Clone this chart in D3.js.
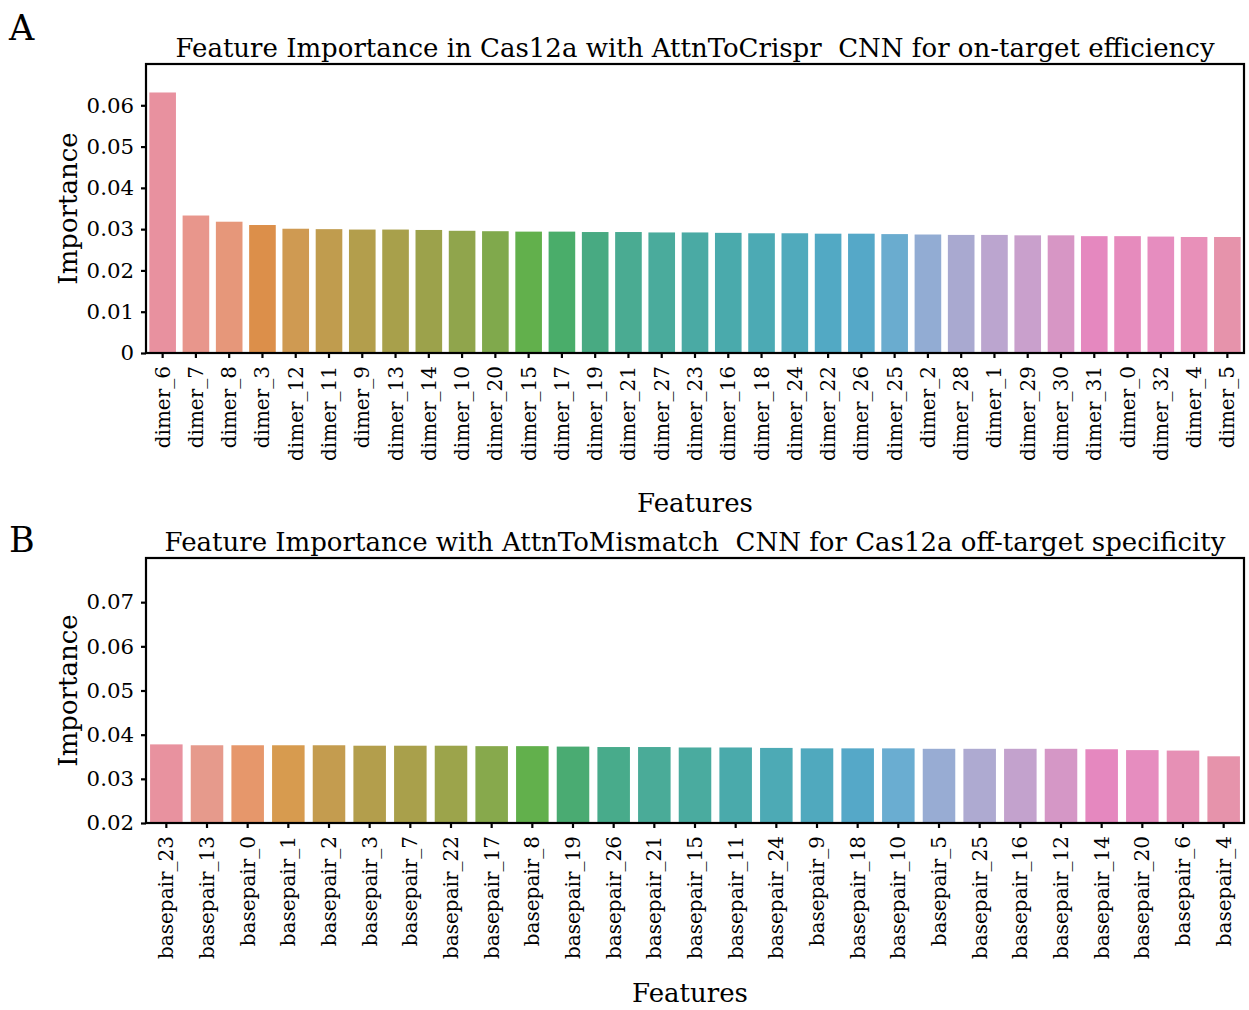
<!DOCTYPE html>
<html>
<head>
<meta charset="utf-8">
<script src="https://cdn.jsdelivr.net/npm/d3@7"></script>
<style>
  body { margin: 0; background: #fff; }
  text { font-family: "DejaVu Serif", serif; fill: #000; }
</style>
</head>
<body>
<div class="chart"></div>
<script>
// panel A: dimer features
const dimerLabels = ['dimer_6', 'dimer_7', 'dimer_8', 'dimer_3', 'dimer_12', 'dimer_11', 'dimer_9',
  'dimer_13', 'dimer_14', 'dimer_10', 'dimer_20', 'dimer_15', 'dimer_17', 'dimer_19', 'dimer_21',
  'dimer_27', 'dimer_23', 'dimer_16', 'dimer_18', 'dimer_24', 'dimer_22', 'dimer_26', 'dimer_25',
  'dimer_2', 'dimer_28', 'dimer_1', 'dimer_29', 'dimer_30', 'dimer_31', 'dimer_0', 'dimer_32',
  'dimer_4', 'dimer_5']
const dimerValues = [0.0631, 0.0333, 0.0318, 0.0310, 0.0301, 0.0300, 0.0299,
  0.0299, 0.0298, 0.0296, 0.0295, 0.0294, 0.0294, 0.0293, 0.0293,
  0.0292, 0.0292, 0.0291, 0.0290, 0.0290, 0.0289, 0.0289, 0.0288,
  0.0287, 0.0286, 0.0286, 0.0285, 0.0285, 0.0283, 0.0283, 0.0282,
  0.0281, 0.0281]
const dimerTicks = [0, 0.01, 0.02, 0.03, 0.04, 0.05, 0.06]
const dimerTickLabels = ['0', '0.01', '0.02', '0.03', '0.04', '0.05', '0.06']

// panel B: basepair features
const basepairLabels = ['basepair_23', 'basepair_13', 'basepair_0', 'basepair_1', 'basepair_2',
  'basepair_3', 'basepair_7', 'basepair_22', 'basepair_17', 'basepair_8', 'basepair_19',
  'basepair_26', 'basepair_21', 'basepair_15', 'basepair_11', 'basepair_24', 'basepair_9',
  'basepair_18', 'basepair_10', 'basepair_5', 'basepair_25', 'basepair_16', 'basepair_12',
  'basepair_14', 'basepair_20', 'basepair_6', 'basepair_4']
const basepairValues = [0.0378, 0.0376, 0.0376, 0.0376, 0.0376,
  0.0375, 0.0375, 0.0375, 0.0374, 0.0374, 0.0373,
  0.0372, 0.0372, 0.0371, 0.0371, 0.0370, 0.0369,
  0.0369, 0.0369, 0.0368, 0.0368, 0.0368, 0.0368,
  0.0367, 0.0365, 0.0364, 0.0351]
const basepairTicks = [0.02, 0.03, 0.04, 0.05, 0.06, 0.07]
const basepairTickLabels = ['0.02', '0.03', '0.04', '0.05', '0.06', '0.07']

// bar colours, as they appear in the figure (husl-like palette)
const dimerColors = ['#e8919f', '#e8968c', '#e6977a', '#dc8f4a', '#cf9a52', '#c09c4e', '#b39e4c',
  '#a8a04b', '#9ca24b', '#90a54c', '#80a94c', '#62b04c', '#4aad6a', '#48aa82', '#4aab92',
  '#4aab9c', '#4aaaa4', '#4aaaac', '#4caab4', '#50aabc', '#52a9c4', '#55a8c8', '#6aaccf',
  '#92acd3', '#a9a9d0', '#bba5cf', '#c9a0cc', '#d796c5', '#e588bf', '#e68bbd', '#e68dbf',
  '#e890b9', '#e693ab']
const basepairColors = ['#e8929f', '#e69a8c', '#e6976b', '#d79b4f', '#c49c4f', '#b39e4c',
  '#a9a04b', '#9ca44b', '#87a94c', '#62b04c', '#4aab72', '#48ab8b', '#4aab98', '#4aab9f',
  '#4aaaab', '#4daab5', '#50a9be', '#55a8c8', '#6aadd1', '#98acd3', '#aeaad1', '#c3a2cd',
  '#d597c6', '#e588bf', '#e68dbf', '#e690b5', '#e693ab']

const W = 1249
const H = 1010

const svg = d3.select('.chart')
  .append('svg')
  .attr('width', W)
  .attr('height', H)

const drawPanel = (opt) => {
  const { labels, values, colors, ticks, tickLabels, domain, top, bottom, title, letter, letterY, xLabelX, xLabelY } = opt
  const left = 146
  const right = 1244
  const g = svg.append('g')

  const x = d3.scaleBand()
    .domain(labels)
    .range([left, right])
    .paddingInner(0.2)
    .paddingOuter(0.1)

  const y = d3.scaleLinear()
    .domain(domain)
    .range([bottom, top])

  const color = d3.scaleOrdinal()
    .domain(labels)
    .range(colors)

  g.selectAll('.bar')
    .data(labels)
    .enter()
    .append('rect')
    .attr('class', 'bar')
    .attr('x', (d) => x(d))
    .attr('width', x.bandwidth())
    .attr('y', (d, i) => y(values[i]))
    .attr('height', (d, i) => y(domain[0]) - y(values[i]))
    .attr('fill', (d) => color(d))

  // y axis
  const yAxis = g.append('g')
    .attr('transform', `translate(${left},0)`)
    .call(d3.axisLeft(y).tickValues(ticks).tickFormat((d, i) => tickLabels[i]).tickSize(5).tickPadding(7))
  yAxis.select('.domain').remove()
  yAxis.selectAll('.tick line').attr('stroke', '#000').attr('stroke-width', 2.2)
  yAxis.selectAll('.tick text')
    .style('font-size', '21.3px')
    .style('font-family', '"DejaVu Serif", serif')

  // x axis
  const xAxis = g.append('g')
    .attr('transform', `translate(0,${bottom})`)
    .call(d3.axisBottom(x).tickSize(5).tickPadding(0))
  xAxis.select('.domain').remove()
  xAxis.selectAll('.tick line').attr('stroke', '#000').attr('stroke-width', 2.2)
  xAxis.selectAll('.tick text')
    .style('font-size', '20px')
    .style('font-family', '"DejaVu Serif", serif')
    .attr('text-anchor', 'end')
    .attr('dy', '0.35em')
    .attr('transform', 'translate(0,13) rotate(-90)')
    .attr('x', 0)
    .attr('y', 0)

  // frame
  g.append('rect')
    .attr('x', left)
    .attr('y', top)
    .attr('width', right - left)
    .attr('height', bottom - top)
    .attr('fill', 'none')
    .attr('stroke', '#000')
    .attr('stroke-width', 2.2)

  g.append('text')
    .attr('x', (left + right) / 2)
    .attr('y', top - 7)
    .attr('text-anchor', 'middle')
    .style('font-size', '26px')
    .style('white-space', 'pre')
    .text(title)

  g.append('text')
    .attr('transform', `translate(77,${(top + bottom) / 2}) rotate(-90)`)
    .attr('text-anchor', 'middle')
    .style('font-size', '26px')
    .text('Importance')

  g.append('text')
    .attr('x', xLabelX)
    .attr('y', xLabelY)
    .attr('text-anchor', 'middle')
    .style('font-size', '26px')
    .text('Features')

  g.append('text')
    .attr('x', 9)
    .attr('y', letterY)
    .style('font-size', '35px')
    .text(letter)
}

drawPanel({
  labels: dimerLabels,
  values: dimerValues,
  colors: dimerColors,
  ticks: dimerTicks,
  tickLabels: dimerTickLabels,
  domain: [0, 0.07],
  top: 64,
  bottom: 353,
  title: 'Feature Importance in Cas12a with AttnToCrispr  CNN for on-target efficiency',
  letter: 'A',
  letterY: 40,
  xLabelX: 695,
  xLabelY: 512
})

drawPanel({
  labels: basepairLabels,
  values: basepairValues,
  colors: basepairColors,
  ticks: basepairTicks,
  tickLabels: basepairTickLabels,
  domain: [0.02, 0.08],
  top: 558,
  bottom: 823,
  title: 'Feature Importance with AttnToMismatch  CNN for Cas12a off-target specificity',
  letter: 'B',
  letterY: 552,
  xLabelX: 690,
  xLabelY: 1002
})
</script>
</body>
</html>
